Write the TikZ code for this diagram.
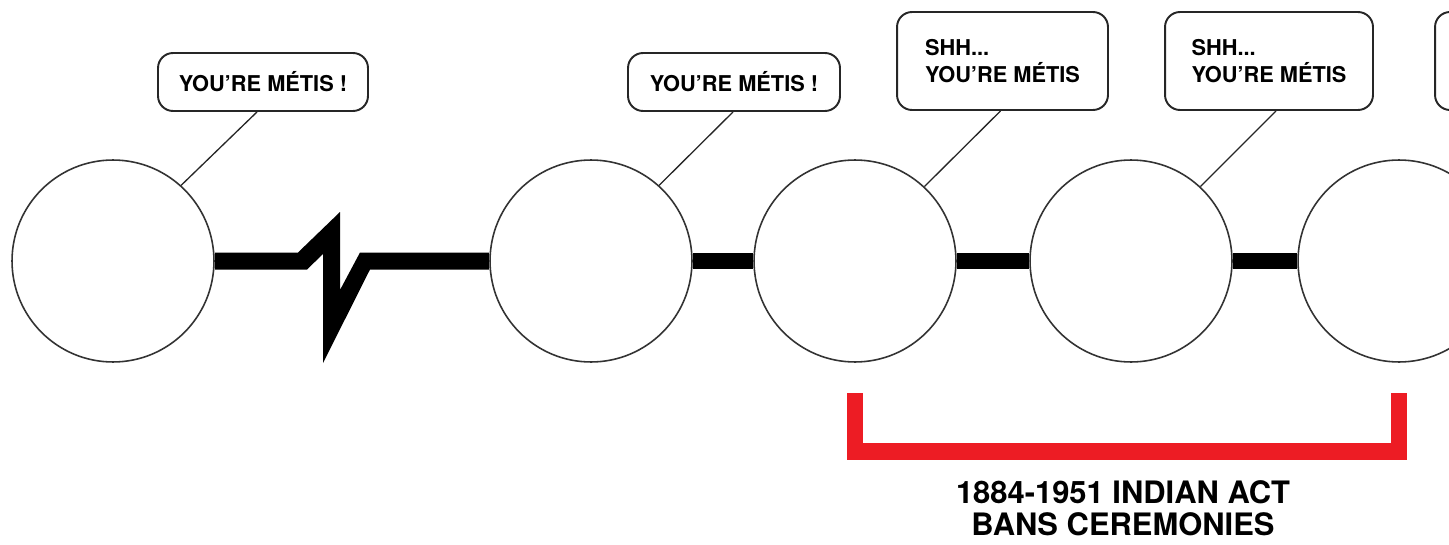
\documentclass[tikz,border=0pt]{standalone}
\usepackage{fontspec}
\setmainfont{TeX Gyre Heros}
\usepackage{tikz}
\usetikzlibrary{calc}
\definecolor{banred}{RGB}{237,28,36}
\tikzstyle{life}=[circle, draw=black!80, line width=0.9pt, fill=white, minimum size=4.04cm, inner sep=0pt]
\tikzstyle{bubble}=[draw=black!85, line width=1.1pt, rounded corners=0.3cm, fill=white, inner sep=0pt, align=left, font=\bfseries\fontsize{12.4}{15.3}\selectfont]
\tikzstyle{tail}=[black!85, line width=0.75pt]
\tikzstyle{bar}=[line width=9.6pt]
\tikzstyle{ban}=[banred, line width=9.6pt]
\newcommand{\bubble}[5]{
	\node[bubble, minimum width=#3cm, minimum height=#4cm] (#1) at #2 {#5};
}

\begin{document}
\begin{tikzpicture}[x=0.02cm, y=-0.02cm]
%
\useasboundingbox (0,0) rectangle (1449,544);
\clip (0,0) rectangle (1449,544);
	\node[life] (c1) at (113,261) {};
	\node[life] (c2) at (591,261) {};
	\node[life] (c3) at (855,261) {};
	\node[life] (c4) at (1131,261) {};
	\node[life] (c5) at (1399,261) {};
%
	\fill ($(c1.east)+(0,-8.5)$) -- (298,252.5) -- (340,212) -- (340,290) -- (360,252.5)
		-- ($(c2.west)+(0,-8.5)$) -- ($(c2.west)+(0,8.5)$) -- (370,269.5) -- (323,363)
		-- (323,254) -- (307,269.5) -- ($(c1.east)+(0,8.5)$) -- cycle;
	\draw[bar] (c2) -- (c3);
	\draw[bar] (c3) -- (c4);
	\draw[bar] (c4) -- (c5);
%
	\bubble{b1}{(263,82)}{4.2}{1.16}{YOU’RE MÉTIS !}
	\bubble{b2}{(734,82)}{4.24}{1.16}{YOU’RE MÉTIS !}
	\bubble{b3}{(1002.5,61)}{4.22}{1.96}{SHH...\\YOU’RE MÉTIS}
	\bubble{b4}{(1269,61)}{4.16}{1.96}{SHH...\\YOU’RE MÉTIS}
	\bubble{b5}{(1540,61)}{4.2}{1.96}{}
	\draw[tail] ($(b1.south)+(-6,0)$) -- (c1.48);
	\draw[tail] ($(b2.south)+(-1,0)$) -- (c2.48);
	\draw[tail] ($(b3.south)+(-2,0)$) -- (c3.47);
	\draw[tail] ($(b4.south)+(7,0)$) -- (c4.47);
%
	\coordinate (banL) at (855,393);
	\coordinate (banR) at (1399,393);
	\draw[ban] (banL) |- ($(banR)+(0,58.5)$) -- (banR);
	\node[inner sep=0pt, align=center, font=\bfseries\fontsize{17.6}{18.1}\selectfont] (act) at (1123,508) {1884-1951 INDIAN ACT\\BANS CEREMONIES};
\end{tikzpicture}
\end{document}
